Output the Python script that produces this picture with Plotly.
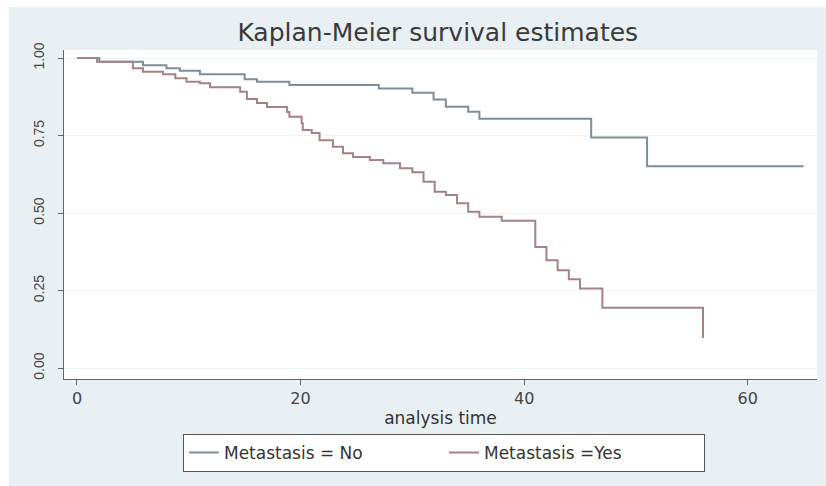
import plotly.graph_objects as go

# Survival estimates
no_time = [0, 2, 5.9, 8, 9.2, 11, 15, 16.1, 19, 27, 30, 31.9, 33, 35, 36, 46, 51, 65]
no_surv = [1.0, 0.988, 0.977, 0.967, 0.959, 0.948, 0.932, 0.924, 0.913, 0.902, 0.888,
           0.866, 0.843, 0.827, 0.804, 0.744, 0.651, 0.651]

yes_time = [0, 1.8, 5.0, 5.9, 7.7, 8.8, 9.8, 11, 11.9, 14.6, 15.2, 16.1, 17, 18.8, 19,
            20.1, 20.2, 21, 21.7, 22.9, 23.8, 24.7, 26.2, 27.4, 28.9, 30, 31, 32, 33,
            34, 35, 36, 38, 41, 42, 43, 44, 45, 47, 56]
yes_surv = [1.0, 0.988, 0.967, 0.956, 0.948, 0.935, 0.924, 0.919, 0.906, 0.891, 0.868,
            0.855, 0.842, 0.826, 0.811, 0.790, 0.768, 0.758, 0.735, 0.714, 0.693, 0.681,
            0.671, 0.661, 0.645, 0.632, 0.601, 0.569, 0.558, 0.532, 0.504, 0.488, 0.475,
            0.391, 0.348, 0.316, 0.287, 0.257, 0.195, 0.097]

x_ticks = [0, 20, 40, 60]
y_ticks = [0, 0.25, 0.5, 0.75, 1.0]
y_tick_labels = ["0.00", "0.25", "0.50", "0.75", "1.00"]

BG = "#e9f0f3"
FONT = "DejaVu Sans"

fig = go.Figure()
fig.add_trace(go.Scatter(x=no_time, y=no_surv, mode="lines", line_shape="hv",
                         name="Metastasis = No",
                         line=dict(color="#7d8e98", width=2)))
fig.add_trace(go.Scatter(x=yes_time, y=yes_surv, mode="lines", line_shape="hv",
                         name="Metastasis =Yes",
                         line=dict(color="#a58385", width=2)))

fig.update_layout(
    width=826, height=486,
    margin=dict(l=64, r=9, t=50, b=107),
    paper_bgcolor=BG, plot_bgcolor="white",
    title=dict(text="Kaplan-Meier survival estimates", x=0.53, xanchor="center",
               y=1 - 32 / 486, yanchor="middle",
               font=dict(family=FONT, size=25, color="#3a3a3a")),
    showlegend=True,
    legend=dict(orientation="h", x=0.158, xanchor="left", y=-0.167, yanchor="top",
                bgcolor="white", bordercolor="#555555", borderwidth=1,
                font=dict(family=FONT, size=17, color="#333333"),
                entrywidth=215, entrywidthmode="pixels", traceorder="normal"),
    shapes=[
        dict(type="rect", xref="paper", yref="paper", x0=-0.2, x1=1.2,
             y0=(379 - 7) / 329, y1=1.3, fillcolor="white", line_width=0, layer="below"),
        dict(type="rect", xref="paper", yref="paper", x0=-0.2, x1=(9 - 64) / 753,
             y0=-0.5, y1=1.3, fillcolor="white", line_width=0, layer="below"),
    ],
)

fig.update_xaxes(range=[-1.16, 66.2], tickvals=x_ticks, ticks="outside", ticklen=5,
                 tickcolor="#666666", showline=True, linecolor="#666666", linewidth=1,
                 showgrid=False, zeroline=False,
                 tickfont=dict(family=FONT, size=16, color="#444444"),
                 title=dict(text="analysis time", standoff=4,
                            font=dict(family=FONT, size=17, color="#333333")))
fig.update_yaxes(range=[-0.035, 1.026], tickvals=y_ticks, ticktext=y_tick_labels,
                 tickangle=-90, ticks="outside", ticklen=5, tickcolor="#666666",
                 showline=True, linecolor="#666666", linewidth=1,
                 showgrid=True, gridcolor="#eef3f5", gridwidth=1, zeroline=False,
                 ticklabelstandoff=8,
                 tickfont=dict(family="Liberation Sans", size=14, color="#444444"))

fig.write_html("out.html")
